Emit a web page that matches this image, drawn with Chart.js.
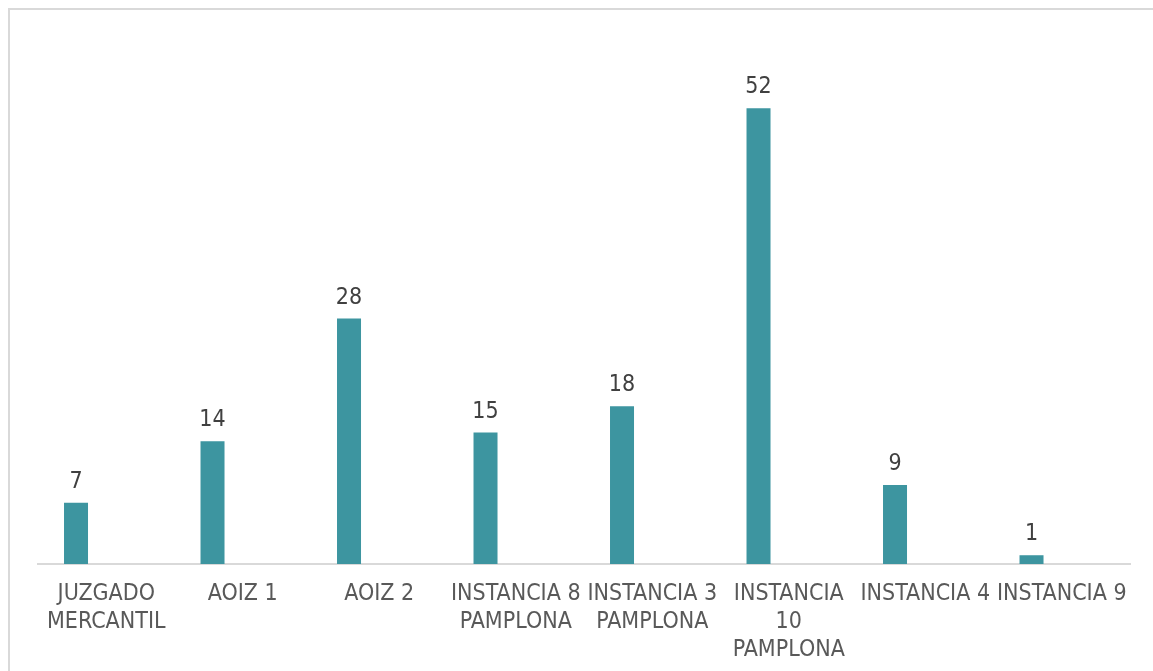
<!DOCTYPE html>
<html>
<head>
<meta charset="utf-8">
<script src="https://cdn.jsdelivr.net/npm/chart.js@4"></script>
<style>
  html, body { margin: 0; padding: 0; overflow: hidden; background: #fff; }
  canvas { display: block; }
</style>
</head>
<body>
<canvas id="c" width="1153" height="671"></canvas>
<script>
const categories = [
  ["JUZGADO", "MERCANTIL"],
  ["AOIZ 1"],
  ["AOIZ 2"],
  ["INSTANCIA 8", "PAMPLONA"],
  ["INSTANCIA 3", "PAMPLONA"],
  ["INSTANCIA", "10", "PAMPLONA"],
  ["INSTANCIA 4"],
  ["INSTANCIA 9"]
];
const values = [7, 14, 28, 15, 18, 52, 9, 1];
const emptySeries = [null, null, null, null, null, null, null, null];

const labelFont = '"Liberation Sans Narrow", "DejaVu Sans Condensed", sans-serif';

const frame = {
  id: 'frame',
  beforeDraw(chart) {
    const ctx = chart.ctx;
    ctx.save();
    ctx.strokeStyle = '#d9d9d9';
    ctx.lineWidth = 2;
    ctx.beginPath();
    ctx.moveTo(9, chart.height + 5);
    ctx.lineTo(9, 9);
    ctx.lineTo(chart.width + 5, 9);
    ctx.stroke();
    ctx.restore();
  }
};

const valueLabels = {
  id: 'valueLabels',
  afterDatasetsDraw(chart) {
    const ctx = chart.ctx;
    const meta = chart.getDatasetMeta(0);
    ctx.save();
    ctx.fillStyle = '#404040';
    ctx.font = '23px ' + labelFont;
    ctx.textAlign = 'center';
    ctx.textBaseline = 'alphabetic';
    meta.data.forEach((bar, i) => {
      ctx.fillText(String(values[i]), bar.x, bar.y - 15);
    });
    ctx.restore();
  }
};

new Chart(document.getElementById('c'), {
  type: 'bar',
  data: {
    labels: categories,
    datasets: [
      { data: values, backgroundColor: '#3d95a0', borderWidth: 0 },
      { data: emptySeries, backgroundColor: 'rgba(0,0,0,0)' }
    ]
  },
  options: {
    responsive: false,
    animation: false,
    devicePixelRatio: 1,
    categoryPercentage: 0.886,
    barPercentage: 0.397,
    layout: { padding: { left: 38, right: 23, top: 38, bottom: 0 } },
    plugins: { legend: { display: false }, tooltip: { enabled: false } },
    scales: {
      x: {
        grid: { display: false, drawTicks: false },
        border: { display: true, color: '#d9d9d9', width: 2 },
        ticks: {
          autoSkip: false, maxRotation: 0, minRotation: 0,
          color: '#595959', padding: 16,
          font: { family: labelFont, size: 23, lineHeight: 1.22 }
        },
        afterFit(scale) { scale.height = 107; }
      },
      y: {
        display: false,
        min: 0, max: 60,
        afterFit(scale) { scale.width = 0; }
      }
    }
  },
  plugins: [frame, valueLabels]
});
</script>
</body>
</html>
